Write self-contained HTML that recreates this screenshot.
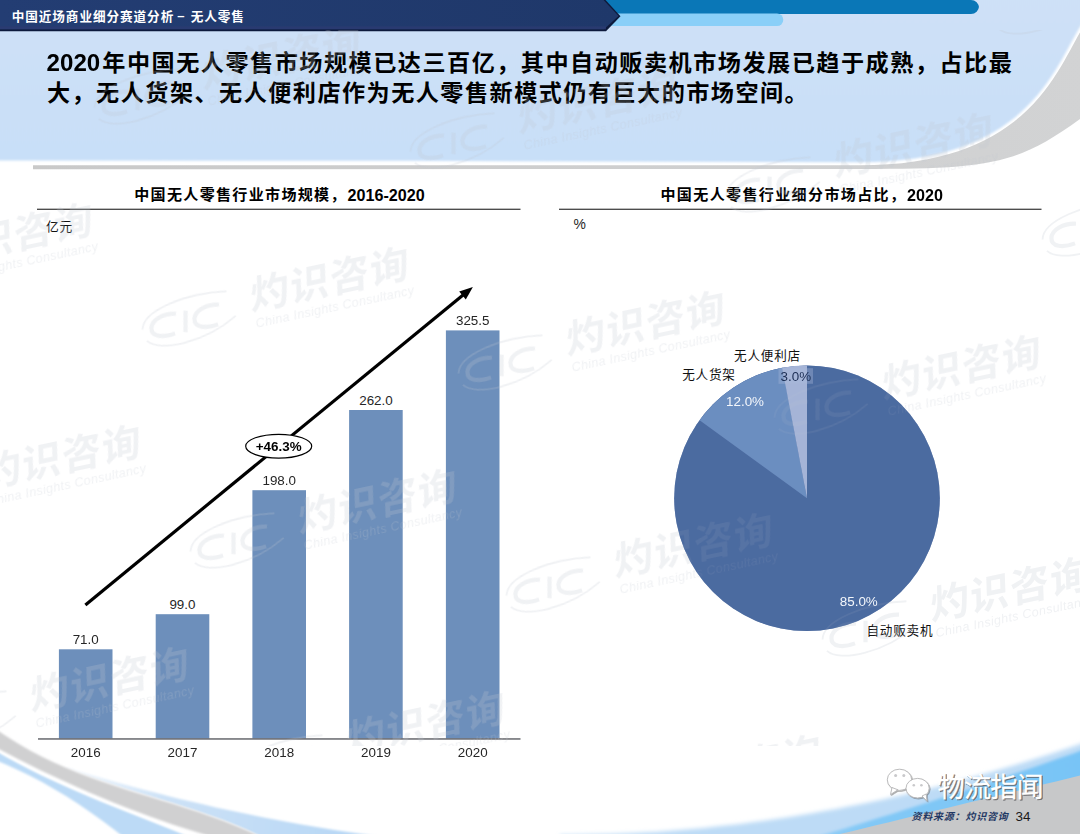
<!DOCTYPE html>
<html lang="zh-CN"><head><meta charset="utf-8"><title>中国近场商业细分赛道分析 – 无人零售</title>
<style>
html,body{margin:0;padding:0;background:#fff}
#slide{position:relative;width:1080px;height:834px;overflow:hidden;background:#fff;font-family:"Liberation Sans",sans-serif}
#slide svg{position:absolute;left:0;top:0}
.t{position:absolute;white-space:nowrap;line-height:1;font-family:"Liberation Sans",sans-serif}
.h{position:absolute;white-space:nowrap;line-height:1;color:transparent;font-family:"Liberation Sans",sans-serif;overflow:hidden;max-width:1000px;height:1.1em}
</style></head>
<body>
<div id="slide">
<svg width="1080" height="834" viewBox="0 0 1080 834">
<defs>
<linearGradient id="gpanel" x1="0" y1="0" x2="0" y2="1"><stop offset="0" stop-color="#cfe1f7"/><stop offset="1" stop-color="#c8dff8"/></linearGradient>
<linearGradient id="ggrey" x1="0" y1="0" x2="1" y2="0"><stop offset="0" stop-color="#c9c9c9"/><stop offset="1" stop-color="#d2d3d4"/></linearGradient>
<linearGradient id="gnavy" x1="0" y1="0" x2="1" y2="0"><stop offset="0" stop-color="#233d73"/><stop offset="1" stop-color="#1f386a"/></linearGradient>
<linearGradient id="gwedge" x1="70" y1="775" x2="340" y2="832" gradientUnits="userSpaceOnUse"><stop offset="0" stop-color="#f3f8fd"/><stop offset="0.35" stop-color="#cde2f7"/><stop offset="1" stop-color="#b9d8f5"/></linearGradient>
<linearGradient id="gbr" x1="700" y1="0" x2="1080" y2="0" gradientUnits="userSpaceOnUse"><stop offset="0" stop-color="#a9d6f7"/><stop offset="0.45" stop-color="#82c8f6"/><stop offset="1" stop-color="#78c4f6"/></linearGradient>
<filter id="soft" x="-2%" y="-10%" width="104%" height="120%"><feGaussianBlur stdDeviation="1"/></filter>
<filter id="soft05" x="-2%" y="-5%" width="104%" height="110%"><feGaussianBlur stdDeviation="0.5"/></filter>
<filter id="soft1" x="-5%" y="-5%" width="110%" height="110%"><feGaussianBlur stdDeviation="0.9"/></filter>
<filter id="soft15" x="-5%" y="-20%" width="110%" height="140%"><feGaussianBlur stdDeviation="1.4"/></filter>
<filter id="soft2" x="-5%" y="-20%" width="110%" height="140%"><feGaussianBlur stdDeviation="2.2"/></filter>
</defs>
<g id="bg"><path d="M-10 -10L-10 160.6L400 160.8L860 162.3C1027.1 162.3 1054 69.2 1080 27L1102.8 -10Z" fill="url(#gpanel)" filter="url(#soft)"/>
<path d="M33 165.2L860 165.2C1028.1 165.2 1056.3 70.8 1082.3 28.4L1090 28L1090 112L1080 119C1016.9 164.9 989.2 169 860 169L33 169.2Z" fill="url(#ggrey)" filter="url(#soft05)"/>
<path d="M596 0H971a8 8 0 0 1 8 8V6a8 8 0 0 1-8 8H596Z" fill="#0a77b7"/>
<path d="M600 13.5H777a6.3 6.3 0 0 1 0 12.6H600Z" fill="#8acff8"/>
<path d="M0 0H605.5L620.5 16.3L606 31.2H0Z" fill="#0d1a3c"/>
<path d="M0 0H603.5L618.5 16L604 29.3H0Z" fill="url(#gnavy)"/>
<rect x="0" y="26.3" width="606" height="3" fill="#2c3b72" opacity="0.8"/>
<path d="M60.0 765.4L72.0 769.1L84.0 772.7L96.0 776.3L108.0 779.8L120.0 783.2L132.0 786.5L144.0 789.7L156.0 792.8L168.0 795.9L180.0 798.9L192.0 801.8L204.0 804.6L216.0 807.4L228.0 810.0L240.0 812.6L252.0 815.1L264.0 817.5L276.0 819.8L288.0 822.1L300.0 824.2L312.0 826.3L324.0 828.3L336.0 830.2L348.0 832.1L360.0 833.8L372.0 835.5L380.0 836.6L380.0 845.0L300.0 858.9L288.0 851.5L276.0 844.7L264.0 838.5L252.0 832.8L240.0 827.5L228.0 822.6L216.0 818.1L204.0 813.9L192.0 809.8L180.0 806.0L168.0 802.3L156.0 798.6L144.0 795.0L132.0 791.3L120.0 787.5L108.0 783.6L96.0 779.4L84.0 775.0L72.0 770.3L60.0 765.2Z" fill="url(#gwedge)" filter="url(#soft1)"/>
<path d="M-6.0 748.5L6.0 755.4L18.0 762.0L30.0 768.2L42.0 774.2L54.0 779.8L66.0 785.3L78.0 790.5L90.0 795.6L102.0 800.6L114.0 805.4L126.0 810.2L138.0 814.9L150.0 819.7L162.0 824.4L174.0 829.2L186.0 834.1L198.0 839.1L200.0 840.0L130.0 842.2L126.0 839.0L114.0 829.5L102.0 820.5L90.0 811.9L78.0 803.8L66.0 796.1L54.0 788.9L42.0 782.1L30.0 775.8L18.0 769.9L6.0 764.5L-6.0 759.5Z" fill="#bcdaf6" filter="url(#soft1)"/>
<path d="M-6.0 728.0L6.0 736.1L18.0 743.6L30.0 750.4L42.0 756.7L54.0 762.5L66.0 767.8L78.0 772.7L90.0 777.3L102.0 781.5L114.0 785.6L126.0 789.4L138.0 793.2L150.0 796.8L162.0 800.4L174.0 804.1L186.0 807.9L198.0 811.8L210.0 815.9L222.0 820.3L234.0 825.0L246.0 830.1L258.0 835.6L270.0 841.5L200.0 841.3L198.0 840.4L186.0 835.4L174.0 830.5L162.0 825.7L150.0 821.0L138.0 816.2L126.0 811.5L114.0 806.7L102.0 801.9L90.0 796.9L78.0 791.8L66.0 786.6L54.0 781.1L42.0 775.5L30.0 769.5L18.0 763.3L6.0 756.7L-6.0 749.8Z" fill="#ffffff" filter="url(#soft1)"/>
<path d="M-6.0 728.0L6.0 736.1L18.0 743.6L30.0 750.4L42.0 756.7L54.0 762.5L66.0 767.8L78.0 772.7L90.0 777.3L102.0 781.5L114.0 785.6L126.0 789.4L138.0 793.2L150.0 796.8L162.0 800.4L174.0 804.1L186.0 807.9L198.0 811.8L210.0 815.9L222.0 820.3L234.0 825.0L246.0 830.1L258.0 835.6L270.0 841.5L215.0 837.8L210.0 836.3L198.0 832.6L186.0 828.8L174.0 824.9L162.0 820.7L150.0 816.5L138.0 812.0L126.0 807.4L114.0 802.7L102.0 797.8L90.0 792.7L78.0 787.5L66.0 782.1L54.0 776.6L42.0 770.9L30.0 765.0L18.0 759.0L6.0 752.8L-6.0 746.5Z" fill="#d0d0d1" filter="url(#soft1)"/>
<path d="M560.0 835.0L572.0 835.0L584.0 834.8L596.0 834.6L608.0 834.2L620.0 833.8L632.0 833.2L644.0 832.6L656.0 831.9L668.0 831.0L680.0 830.1L692.0 829.0L704.0 827.9L716.0 826.6L728.0 825.3L740.0 823.9L752.0 822.3L764.0 820.7L776.0 819.0L788.0 817.2L800.0 815.3L812.0 813.2L824.0 811.1L836.0 808.9L848.0 806.6L860.0 804.3L872.0 801.8L884.0 799.2L896.0 796.5L908.0 793.8L920.0 790.9L932.0 788.0L944.0 784.9L956.0 781.8L968.0 778.6L980.0 775.2L992.0 771.8L1004.0 768.3L1016.0 764.7L1028.0 761.1L1040.0 757.3L1052.0 753.4L1064.0 749.5L1076.0 745.5L1088.0 741.3L1090.0 740.7L1090.0 850.0L560.0 850.0Z" fill="#bddbf6" filter="url(#soft2)"/>
<path d="M760.0 853.4L772.0 850.0L784.0 846.5L796.0 843.0L808.0 839.5L820.0 835.9L832.0 832.3L844.0 828.7L856.0 825.0L868.0 821.3L880.0 817.6L892.0 813.9L904.0 810.1L916.0 806.3L928.0 802.4L940.0 798.5L952.0 794.6L964.0 790.7L976.0 786.7L988.0 782.7L1000.0 778.7L1012.0 774.6L1024.0 770.5L1036.0 766.4L1048.0 762.3L1060.0 758.1L1072.0 753.9L1084.0 749.6L1090.0 747.5L1090.0 850.0L760.0 850.0Z" fill="url(#gbr)" filter="url(#soft15)"/>
<path d="M780.0 848.9L792.0 846.0L804.0 843.0L816.0 840.0L828.0 837.1L840.0 834.1L852.0 831.2L864.0 828.3L876.0 825.3L888.0 822.4L900.0 819.4L912.0 816.5L924.0 813.6L936.0 810.6L948.0 807.7L960.0 804.8L972.0 801.8L984.0 798.9L996.0 796.0L1008.0 793.1L1020.0 790.2L1032.0 787.2L1044.0 784.3L1056.0 781.4L1068.0 778.5L1080.0 775.6L1090.0 773.2L1090.0 850.0L780.0 850.0Z" fill="#c7c8c9" filter="url(#soft05)"/></g>
<g id="charts"><rect x="37" y="208.7" width="483.5" height="1.1" fill="#222"/>
<rect x="559" y="208.7" width="482.5" height="1.1" fill="#222"/>
<rect x="58.9" y="649.3" width="53.6" height="89.0" fill="#6d8fbb"/>
<rect x="155.7" y="614.2" width="53.6" height="124.1" fill="#6d8fbb"/>
<rect x="252.4" y="490.2" width="53.6" height="248.1" fill="#6d8fbb"/>
<rect x="349.1" y="410.0" width="53.6" height="328.3" fill="#6d8fbb"/>
<rect x="445.9" y="330.4" width="53.6" height="407.9" fill="#6d8fbb"/>
<rect x="38" y="738.1" width="482.5" height="1.7" fill="#20222a" fill-opacity="0.6"/>
<line x1="85.4" y1="604.9" x2="464.0" y2="294.2" stroke="#000" stroke-width="3.2"/>
<path d="M472.9 286.9L465.8 299.5L459.2 291.4Z" fill="#000"/>
<ellipse cx="278.7" cy="446.2" rx="33" ry="11.9" fill="#fff" stroke="#000" stroke-width="1.2"/>
<circle cx="807.0" cy="498.2" r="132.8" fill="#4c6ba0"/><path d="M807.00 498.20L699.56 420.14A132.80 132.80 0 0 1 782.57 367.67Z" fill="#6c8ec0"/><path d="M807.00 498.20L782.12 367.75A132.80 132.80 0 0 1 807.00 365.40Z" fill="#a6b5d7"/>
<rect x="778.5" y="368.2" width="34.5" height="15.6" fill="#a9b8d9" opacity="0.92"/></g>
<g id="cjk" font-family="&quot;Liberation Sans&quot;, &quot;Noto Sans CJK SC&quot;, sans-serif">
<text x="11.68" y="20.7" font-size="12.6" font-weight="bold" fill="#fff" letter-spacing="0.95">中国近场商业细分赛道分析</text>
<text x="190.75" y="20.7" font-size="12.6" font-weight="bold" fill="#fff" letter-spacing="0.9">无人零售</text>
<text x="102.35" y="70.6" font-size="23.12" font-weight="bold" fill="#000" letter-spacing="1.51">年中国无人零售市场规模已达三百亿，其中自动贩卖机市场发展已趋于成熟，占比最</text>
<text x="46.94" y="100.7" font-size="23.12" font-weight="bold" fill="#000" letter-spacing="1.48">大，无人货架、无人便利店作为无人零售新模式仍有巨大的市场空间。</text>
<text x="134.26" y="200.4" font-size="15.04" font-weight="bold" fill="#000" letter-spacing="1.32">中国无人零售行业市场规模，</text>
<text x="660.48" y="200.4" font-size="15.04" font-weight="bold" fill="#000" letter-spacing="1.36">中国无人零售行业细分市场占比，</text>
<text x="45.91" y="231" font-size="12.78" fill="#111" letter-spacing="0.82">亿元</text>
<text x="734" y="359.6" font-size="12.6" fill="#111" letter-spacing="0.8">无人便利店</text>
<text x="682.2" y="379" font-size="12.6" fill="#111" letter-spacing="0.8">无人货架</text>
<text x="866.4" y="634.7" font-size="12.6" fill="#111" letter-spacing="0.8">自动贩卖机</text>
<g fill="#1f3864" transform="translate(911 820) skewX(-14) translate(-911 -820)"><text x="911.42" y="820" font-size="9.96" font-weight="bold" letter-spacing="0.84">资料来源：灼识咨询</text></g></g>
</svg>
<svg width="1080" height="834" viewBox="0 0 1080 834" style="pointer-events:none"><defs><filter id="wsh" x="-20%" y="-20%" width="140%" height="140%"><feDropShadow dx="0.8" dy="0.9" stdDeviation="0.7" flood-color="#555" flood-opacity="0.55"/></filter><g id="wmt"><text x="2" y="0" transform="skewX(-10)" font-family="&quot;Liberation Sans&quot;, &quot;Noto Sans CJK SC&quot;, sans-serif" font-size="39.5" font-weight="bold" letter-spacing="1.3" stroke="none">灼识咨询</text><g fill="none" stroke-width="4.2" stroke-linecap="butt"><path d="M-72 -12.5C-84 -15.5 -97 -12 -99 -3.5C-101 5 -90 8.5 -77 6.5"/><path d="M-62 -13.5L-66.5 7.5"/><path d="M-28 -12.5C-40 -15.5 -53 -12 -55 -3.5C-57 5 -46 8.5 -33 6.5"/></g><g fill="none" stroke-width="1.8"><path d="M-108 -4C-104 -22 -60 -31 -18 -24"/><path d="M-106 8C-96 22 -50 22 -14 2"/></g><text x="4" y="17.5" font-family="Liberation Sans, sans-serif" font-style="italic" font-size="12.5" letter-spacing="0.4" stroke="none">China Insights Consultancy</text></g></defs><clipPath id="wclip"><rect x="0" y="30" width="1080" height="716"/></clipPath><g clip-path="url(#wclip)"><g fill="#c2c8d2" stroke="#c2c8d2" stroke-width="0" opacity="0.24"><use href="#wmt" transform="translate(-67 267) rotate(-12)"/><use href="#wmt" transform="translate(-19 489) rotate(-12)"/><use href="#wmt" transform="translate(29 711) rotate(-12)"/><use href="#wmt" transform="translate(201 89) rotate(-12)"/><use href="#wmt" transform="translate(249 311) rotate(-12)"/><use href="#wmt" transform="translate(297 533) rotate(-12)"/><use href="#wmt" transform="translate(345 755) rotate(-12)"/><use href="#wmt" transform="translate(517 133) rotate(-12)"/><use href="#wmt" transform="translate(565 355) rotate(-12)"/><use href="#wmt" transform="translate(613 577) rotate(-12)"/><use href="#wmt" transform="translate(661 799) rotate(-12)"/><use href="#wmt" transform="translate(833 177) rotate(-12)"/><use href="#wmt" transform="translate(881 399) rotate(-12)"/><use href="#wmt" transform="translate(929 621) rotate(-12)"/><use href="#wmt" transform="translate(977 843) rotate(-12)"/><use href="#wmt" transform="translate(1101 -1) rotate(-12)"/><use href="#wmt" transform="translate(1149 221) rotate(-12)"/><use href="#wmt" transform="translate(1197 443) rotate(-12)"/></g></g><g opacity="0.6"><circle cx="807.0" cy="498.2" r="132.8" fill="#4c6ba0"/><path d="M807.00 498.20L699.56 420.14A132.80 132.80 0 0 1 782.57 367.67Z" fill="#6c8ec0"/><path d="M807.00 498.20L782.12 367.75A132.80 132.80 0 0 1 807.00 365.40Z" fill="#a6b5d7"/></g><g filter="url(#wsh)"><g fill="#fff" stroke="#b4b4b6" stroke-width="0.9"><ellipse cx="899.5" cy="779.8" rx="12.2" ry="10.6"/><path d="M892 787.5L890.5 794.5L898 789.8Z"/></g><g fill="#c9c9cb"><circle cx="895.6" cy="775.6" r="1.5"/><circle cx="903.8" cy="775.6" r="1.5"/></g><g fill="#fff" stroke="#b4b4b6" stroke-width="0.9"><ellipse cx="917.6" cy="788.2" rx="11.6" ry="9.8"/><path d="M922 796L927 801.2L926.2 794Z"/></g><g fill="#c9c9cb"><circle cx="913.8" cy="785.3" r="1.3"/><circle cx="921.4" cy="785.3" r="1.3"/></g></g><g fill="#5c5c60" stroke="#5c5c60" stroke-width="0.49" opacity="0.8" transform="translate(1.2 1.3)"><text x="937.6" y="796.6" font-family="&quot;Liberation Sans&quot;, &quot;Noto Sans CJK SC&quot;, sans-serif" font-size="27.2" letter-spacing="-0.9">物流指闻</text></g><g fill="#fff" stroke="#fff" stroke-width="0.27"><text x="937.6" y="796.6" font-family="&quot;Liberation Sans&quot;, &quot;Noto Sans CJK SC&quot;, sans-serif" font-size="27.2" letter-spacing="-0.9">物流指闻</text></g></svg>
<div class="t" style="left:85.70px;top:633.18px;font-size:13.40px;font-weight:normal;color:#262626;transform:translateX(-50%);">71.0</div>
<div class="t" style="left:85.70px;top:745.56px;font-size:13.40px;font-weight:normal;color:#262626;transform:translateX(-50%);">2016</div>
<div class="t" style="left:182.45px;top:598.10px;font-size:13.40px;font-weight:normal;color:#262626;transform:translateX(-50%);">99.0</div>
<div class="t" style="left:182.45px;top:745.56px;font-size:13.40px;font-weight:normal;color:#262626;transform:translateX(-50%);">2017</div>
<div class="t" style="left:279.20px;top:474.03px;font-size:13.40px;font-weight:normal;color:#262626;transform:translateX(-50%);">198.0</div>
<div class="t" style="left:279.20px;top:745.56px;font-size:13.40px;font-weight:normal;color:#262626;transform:translateX(-50%);">2018</div>
<div class="t" style="left:375.95px;top:393.83px;font-size:13.40px;font-weight:normal;color:#262626;transform:translateX(-50%);">262.0</div>
<div class="t" style="left:375.95px;top:745.56px;font-size:13.40px;font-weight:normal;color:#262626;transform:translateX(-50%);">2019</div>
<div class="t" style="left:472.70px;top:314.26px;font-size:13.40px;font-weight:normal;color:#262626;transform:translateX(-50%);">325.5</div>
<div class="t" style="left:472.70px;top:745.56px;font-size:13.40px;font-weight:normal;color:#262626;transform:translateX(-50%);">2020</div>
<div class="t" style="left:278.70px;top:440.06px;font-size:13.40px;font-weight:bold;color:#000;transform:translateX(-50%);">+46.3%</div>
<div class="t" style="left:795.80px;top:369.66px;font-size:13.40px;font-weight:normal;color:#1c2f55;transform:translateX(-50%);">3.0%</div>
<div class="t" style="left:745.00px;top:394.86px;font-size:13.40px;font-weight:normal;color:#f4f7fb;transform:translateX(-50%);">12.0%</div>
<div class="t" style="left:858.80px;top:594.66px;font-size:13.40px;font-weight:normal;color:#f4f7fb;transform:translateX(-50%);">85.0%</div>
<div class="t" style="left:573.60px;top:217.73px;font-size:13.90px;font-weight:normal;color:#262626;">%</div>
<div class="t" style="left:177.30px;top:8.90px;font-size:13.00px;font-weight:bold;color:#fff;">–</div>
<div class="t" style="left:46.60px;top:50.80px;font-size:24.10px;font-weight:bold;color:#000;">2020</div>
<div class="t" style="left:347.48px;top:186.93px;font-size:16.15px;font-weight:bold;color:#000;">2016-2020</div>
<div class="t" style="left:907.00px;top:186.93px;font-size:16.15px;font-weight:bold;color:#000;">2020</div>
<div class="t" style="left:1015.50px;top:809.66px;font-size:13.40px;font-weight:normal;color:#1a1a1a;">34</div>
<div id="textlayer"><span class="h" style="left:12.0px;top:9.0px;font-size:13.4px">中国近场商业细分赛道分析</span>
<span class="h" style="left:190.0px;top:9.0px;font-size:13.4px">无人零售</span>
<span class="h" style="left:102.0px;top:49.0px;font-size:24.4px">年中国无人零售市场规模已达三百亿，其中自动贩卖机市场发展已趋于成熟，占比最</span>
<span class="h" style="left:47.0px;top:79.0px;font-size:24.4px">大，无人货架、无人便利店作为无人零售新模式仍有巨大的市场空间。</span>
<span class="h" style="left:134.0px;top:186.0px;font-size:16.0px">中国无人零售行业市场规模，</span>
<span class="h" style="left:660.0px;top:186.0px;font-size:16.0px">中国无人零售行业细分市场占比，</span>
<span class="h" style="left:46.0px;top:219.0px;font-size:13.0px">亿元</span>
<span class="h" style="left:734.0px;top:348.0px;font-size:13.0px">无人便利店</span>
<span class="h" style="left:682.0px;top:368.0px;font-size:13.0px">无人货架</span>
<span class="h" style="left:867.0px;top:623.0px;font-size:13.0px">自动贩卖机</span>
<span class="h" style="left:911.0px;top:810.0px;font-size:10.6px">资料来源：灼识咨询</span></div>
</div>
</body></html>
